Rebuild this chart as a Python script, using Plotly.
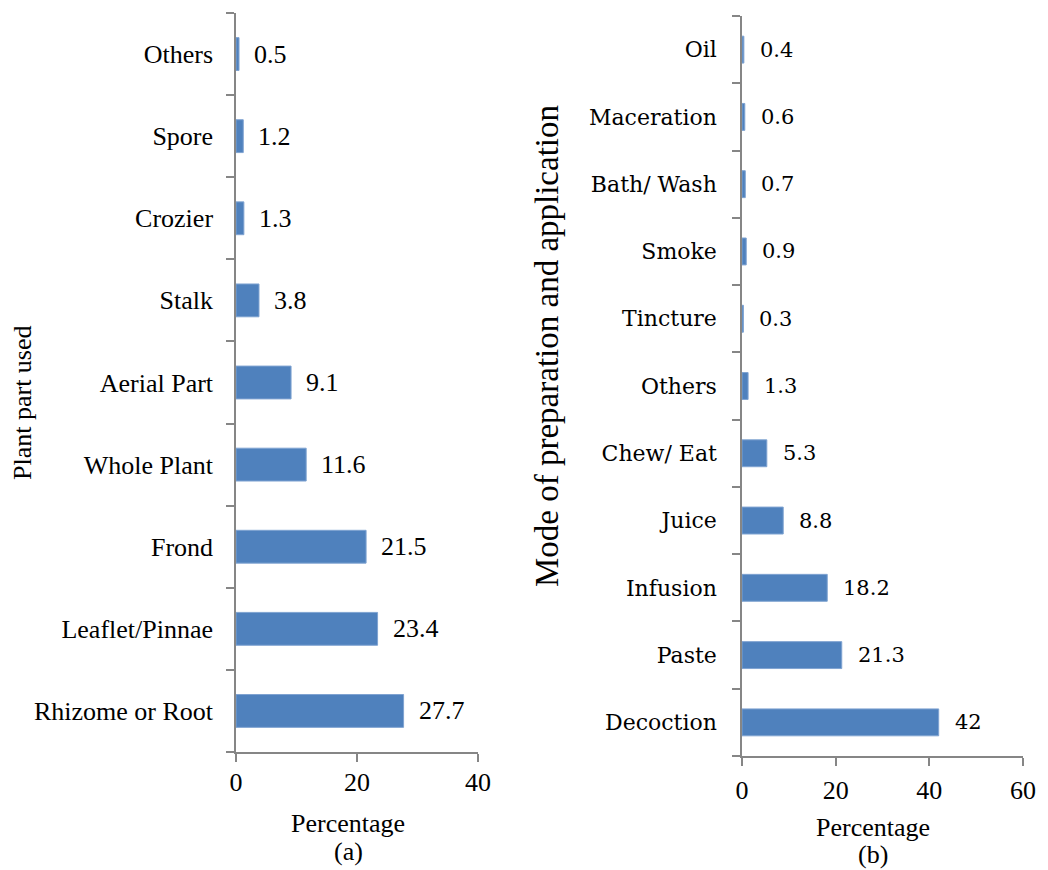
import plotly.graph_objects as go

# Plant part used (bottom to top)
parts = ["Rhizome or Root", "Leaflet/Pinnae", "Frond", "Whole Plant", "Aerial Part",
         "Stalk", "Crozier", "Spore", "Others"]
parts_pct = [27.7, 23.4, 21.5, 11.6, 9.1, 3.8, 1.3, 1.2, 0.5]

# Mode of preparation and application (bottom to top)
modes = ["Decoction", "Paste", "Infusion", "Juice", "Chew/ Eat", "Others",
         "Tincture", "Smoke", "Bath/ Wash", "Maceration", "Oil"]
modes_pct = [42, 21.3, 18.2, 8.8, 5.3, 1.3, 0.3, 0.9, 0.7, 0.6, 0.4]

x_ticks_a = [0, 20, 40]
x_ticks_b = [0, 20, 40, 60]

W, H = 1048, 870
BAR = "#4F81BD"
EDGE = "#7FA3D1"
AXIS = "#868686"
SERIF = "Liberation Serif, Times New Roman, serif"
SERIF_B = "DejaVu Serif, Cambria, serif"


def px(x):
    return x / W


def py(y):
    return 1 - y / H


def txt(x, y, s, size=26, family=SERIF, angle=0):
    return dict(x=px(x), y=py(y), xref="paper", yref="paper", text=s, showarrow=False,
                xanchor="center", yanchor="middle", textangle=angle,
                font=dict(family=family, size=size, color="#000"))


fig = go.Figure()
fig.add_trace(go.Bar(x=parts_pct, y=parts, orientation="h", xaxis="x", yaxis="y",
                     marker=dict(color=BAR, line=dict(color=EDGE, width=1)),
                     hoverinfo="x+y"))
fig.add_trace(go.Bar(x=modes_pct, y=modes, orientation="h", xaxis="x2", yaxis="y2",
                     marker=dict(color=BAR, line=dict(color=EDGE, width=1)),
                     hoverinfo="x+y"))

annotations = []
for v, c in zip(parts_pct, parts):
    annotations.append(dict(x=v, y=c, xref="x", yref="y", text=f"{v:g}", showarrow=False,
                            xanchor="left", yanchor="middle", xshift=13,
                            font=dict(family=SERIF, size=26, color="#000")))
for v, c in zip(modes_pct, modes):
    annotations.append(dict(x=v, y=c, xref="x2", yref="y2", text=f"{v:g}", showarrow=False,
                            xanchor="left", yanchor="middle", xshift=14,
                            font=dict(family=SERIF_B, size=21, color="#000")))

# axis titles and panel captions
annotations += [
    txt(348, 823, "Percentage"),
    txt(348, 851, "(a)"),
    txt(873, 827, "Percentage"),
    txt(873, 854, "(b)"),
    txt(22, 403, "Plant part used", angle=-90),
    txt(547, 346, "Mode of preparation and application", size=33, angle=-90),
]

common_x = dict(showgrid=False, zeroline=False, showline=True, linecolor=AXIS, linewidth=1.5,
                ticks="outside", ticklen=8, tickcolor=AXIS, tickwidth=1.5, fixedrange=True,
                automargin=False, tickfont=dict(family=SERIF, size=26, color="#000"))
common_y = dict(showgrid=False, zeroline=False, showline=True, linecolor=AXIS, linewidth=1.5,
                ticks="outside", ticklen=8, tickcolor=AXIS, tickwidth=1.5, tickson="boundaries",
                type="category", fixedrange=True, automargin=False)

fig.update_layout(
    width=W, height=H,
    margin=dict(l=0, r=0, t=0, b=0, autoexpand=False),
    paper_bgcolor="white", plot_bgcolor="white",
    showlegend=False, bargap=0.6,
    xaxis=dict(domain=[px(236), px(478)], range=[0, 40], tickvals=x_ticks_a,
               anchor="y", ticklabelstandoff=-2, **common_x),
    yaxis=dict(domain=[py(752), py(13)], anchor="x", categoryorder="array", categoryarray=parts,
               tickfont=dict(family=SERIF, size=26, color="#000"), ticklabelstandoff=16, **common_y),
    xaxis2=dict(domain=[px(742), px(1023)], range=[0, 60], tickvals=x_ticks_b,
                anchor="y2", ticklabelstandoff=2, **common_x),
    yaxis2=dict(domain=[py(756), py(16)], anchor="x2", categoryorder="array", categoryarray=modes,
                tickfont=dict(family=SERIF_B, size=22, color="#000"), ticklabelstandoff=19, **common_y),
    annotations=annotations,
)

fig.write_html("out.html")
